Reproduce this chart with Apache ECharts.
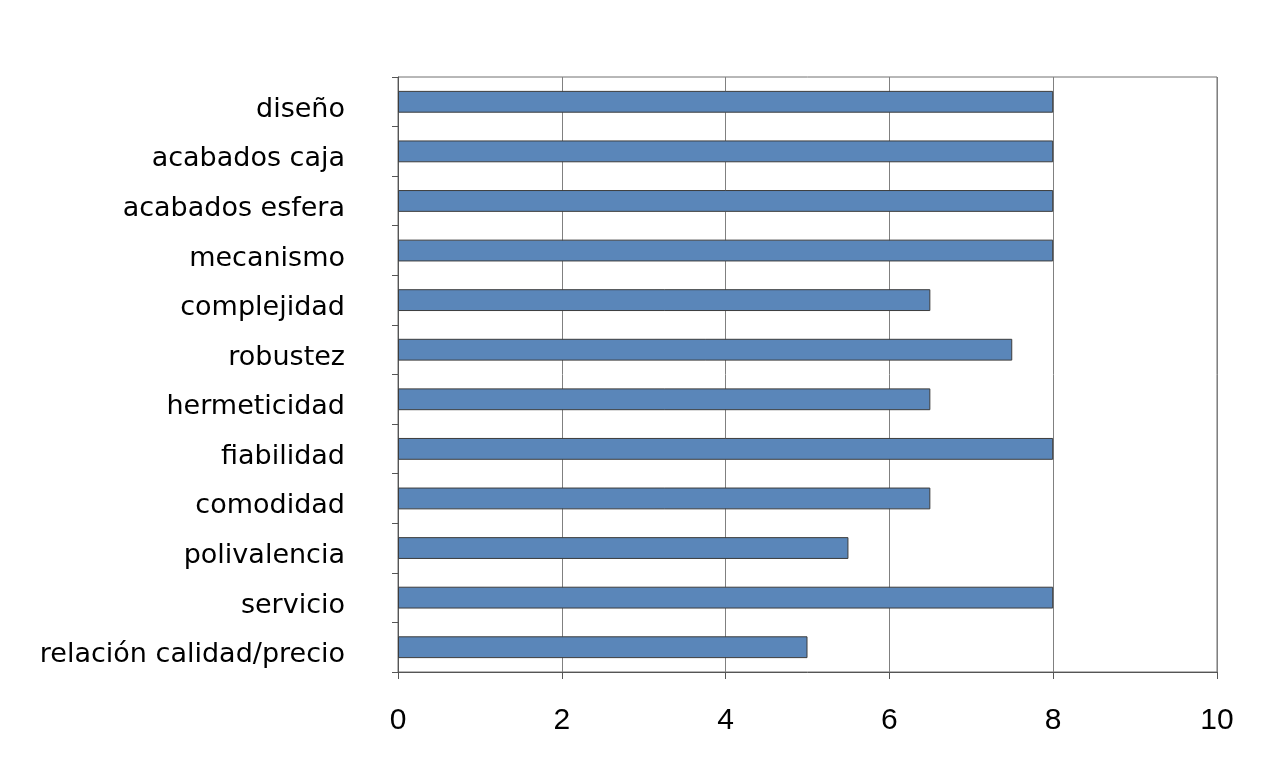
<!DOCTYPE html>
<html>
<head>
<meta charset="utf-8">
<script src="https://cdn.jsdelivr.net/npm/echarts@6/dist/echarts.min.js"></script>
<style>
  html, body { margin: 0; padding: 0; background: #fff; }
  #chart { width: 1280px; height: 773px; }
</style>
</head>
<body>
<div id="chart"></div>
<script>
const categories = [
  'diseño', 'acabados caja', 'acabados esfera', 'mecanismo', 'complejidad',
  'robustez', 'hermeticidad', 'fiabilidad', 'comodidad', 'polivalencia',
  'servicio', 'relación calidad/precio'
]
const scores = [8, 8, 8, 8, 6.5, 7.5, 6.5, 8, 6.5, 5.5, 8, 5]
const valueTicks = { min: 0, max: 10, interval: 2 }

const chart = echarts.init(document.getElementById('chart'))
chart.setOption({
  animation: false,
  grid: {
    left: 398,
    right: 63,
    top: 77,
    bottom: 101,
    show: true,
    borderColor: '#707070',
    borderWidth: 1,
    backgroundColor: 'transparent'
  },
  xAxis: {
    type: 'value',
    min: valueTicks.min,
    max: valueTicks.max,
    interval: valueTicks.interval,
    axisLine: { show: true, lineStyle: { color: '#555', width: 1 } },
    axisTick: { show: true, length: 7, lineStyle: { color: '#555' } },
    splitLine: { show: true, lineStyle: { color: '#808080', width: 1 } },
    axisLabel: {
      color: '#000',
      fontSize: 30,
      fontFamily: 'Liberation Sans, Arial, sans-serif',
      margin: 34
    }
  },
  yAxis: {
    type: 'category',
    data: categories,
    inverse: true,
    axisLine: { show: true, lineStyle: { color: '#555', width: 1 } },
    axisTick: { show: true, length: 6, lineStyle: { color: '#555' } },
    axisLabel: {
      color: '#000',
      fontSize: 27,
      fontFamily: 'DejaVu Sans, sans-serif',
      margin: 53,
      verticalAlign: 'top',
      lineHeight: 16
    }
  },
  series: [{
    type: 'bar',
    data: scores,
    barWidth: '44%',
    itemStyle: {
      color: '#5a86b9',
      borderColor: '#3c3c3c',
      borderWidth: 1
    }
  }]
})
</script>
</body>
</html>
